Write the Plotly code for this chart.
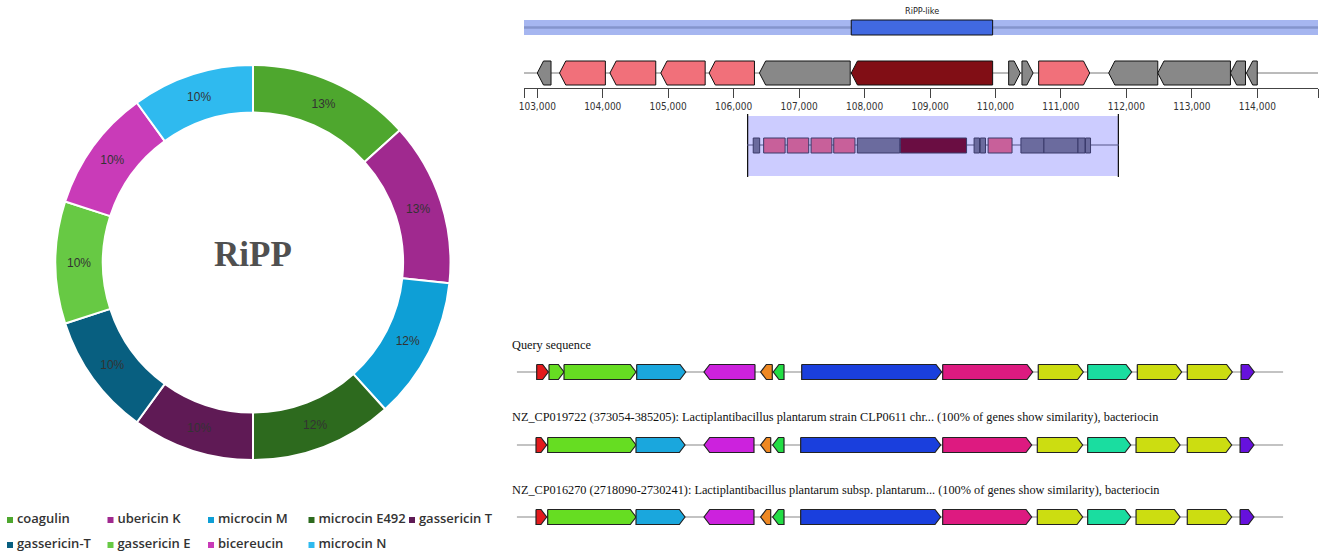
import plotly.graph_objects as go

# ---------------- data: donut ----------------
ripp_labels = ["coagulin", "ubericin K", "microcin M", "microcin E492", "gassericin T",
               "gassericin-T", "gassericin E", "bicereucin", "microcin N"]
ripp_counts = [8, 8, 7, 7, 6, 6, 6, 6, 6]
center_label = "RiPP"

# ---------------- data: antiSMASH region ----------------
region_start = 102797
region_end = 114928
protocluster_label = "RiPP-like"
protocluster_start = 107797
protocluster_end = 109957
gene_start = [103000, 103340, 104110, 104887, 105625, 106394, 107797,
              110202, 110405, 110660, 111730, 112480, 113590, 113835]
gene_end = [103210, 104040, 104810, 105565, 106318, 107781, 109957,
            110380, 110575, 111440, 112480, 113590, 113820, 114000]
gene_strand = [-1, -1, -1, -1, -1, -1, -1, 1, 1, 1, -1, -1, -1, -1]
gene_kind = ["other", "additional", "additional", "additional", "additional", "other", "core",
             "other", "other", "additional", "other", "other", "other", "other"]
tick_values = [103000, 104000, 105000, 106000, 107000, 108000, 109000,
               110000, 111000, 112000, 113000, 114000]

# ---------------- data: cluster comparison ----------------
cmp_titles = [
    "Query sequence",
    "NZ_CP019722 (373054-385205): Lactiplantibacillus plantarum strain CLP0611 chr... (100% of genes show similarity), bacteriocin",
    "NZ_CP016270 (2718090-2730241): Lactiplantibacillus plantarum subsp. plantarum... (100% of genes show similarity), bacteriocin",
]
cmp_length = 12151
query_start = [317, 512, 750, 1902, 2969, 3867, 4067, 4517, 6752, 8267, 9050, 9837, 10629, 11482]
query_end = [501, 750, 1891, 2679, 3777, 4051, 4237, 6736, 8179, 8981, 9748, 10540, 11342, 11691]
query_strand = [1, 1, 1, 1, -1, -1, -1, 1, 1, 1, 1, 1, 1, 1]
query_group = ["red", "lime", "lime", "cyan", "magenta", "orange", "green", "blue",
               "pink", "yellow", "teal", "yellow", "yellow", "purple"]
hit1_start = [306, 491, 1891, 2969, 3867, 4058, 4501, 6752, 8252, 9050, 9817, 10629, 11466]
hit1_end = [475, 1891, 2668, 3761, 4026, 4237, 6720, 8163, 8971, 9732, 10514, 11333, 11686]
hit1_strand = [1, 1, 1, -1, -1, -1, 1, 1, 1, 1, 1, 1, 1]
hit1_group = ["red", "lime", "cyan", "magenta", "orange", "green", "blue",
              "pink", "yellow", "teal", "yellow", "yellow", "purple"]
hit2_start = [306, 491, 1891, 2969, 3867, 4058, 4501, 6752, 8252, 9050, 9817, 10629, 11466]
hit2_end = [475, 1891, 2668, 3761, 4026, 4237, 6720, 8163, 8971, 9732, 10514, 11333, 11686]
hit2_strand = [1, 1, 1, -1, -1, -1, 1, 1, 1, 1, 1, 1, 1]
hit2_group = ["red", "lime", "cyan", "magenta", "orange", "green", "blue",
              "pink", "yellow", "teal", "yellow", "yellow", "purple"]

# ---------------- styles ----------------
W, H = 1325, 556
ripp_colors = ["#4ea72e", "#a0298f", "#0e9fd6", "#2d6a1e", "#5f1a55",
               "#085f80", "#67c944", "#c93bb8", "#2fbaef"]
kind_color = {"other": "#888888", "additional": "#f1707a", "core": "#810e15"}
mini_color = {"other": "#6b6b9e", "additional": "#c8609a", "core": "#6a0d42"}
group_color = {"red": "#e31a1c", "lime": "#66dd22", "cyan": "#1aa7dd", "magenta": "#cc22dd",
               "orange": "#ee8822", "green": "#22dd44", "blue": "#1a3fdd", "pink": "#dd1a80",
               "yellow": "#ccdd11", "teal": "#1adda0", "purple": "#6611dd"}

fig = go.Figure()

# ---------------- donut ----------------
fig.add_trace(go.Pie(
    labels=ripp_labels, values=ripp_counts, sort=False, direction="clockwise", rotation=0,
    hole=0.76, marker=dict(colors=ripp_colors, line=dict(color="white", width=2)),
    texttemplate="%{percent:.0%}", textposition="inside", insidetextorientation="horizontal",
    textfont=dict(family="Liberation Sans, Arial", size=12, color="#333333"),
    domain=dict(x=[55 / W, 451 / W], y=[1 - 460 / H, 1 - 65 / H]),
    showlegend=False, hoverinfo="skip",
))
fig.add_annotation(text="<b>%s</b>" % center_label, x=253 / W, y=1 - 254 / H, xref="paper", yref="paper",
                   xanchor="center", yanchor="middle", showarrow=False,
                   font=dict(family="Liberation Serif, Times New Roman", size=35, color="#505050"))

# manual legend (5 per row)
leg_x = [10 + 100.5 * (i % 5) for i in range(len(ripp_labels))]
leg_y = [520 + 25 * (i // 5) for i in range(len(ripp_labels))]
fig.add_trace(go.Scatter(
    x=leg_x, y=leg_y, xaxis="x", yaxis="y", mode="markers+text",
    marker=dict(symbol="square", size=6, color=ripp_colors),
    text=["\u2009" + lab for lab in ripp_labels], textposition="middle right",
    textfont=dict(family="Open Sans, Noto Sans", size=13, color="#333333", weight=600),
    showlegend=False, hoverinfo="skip", cliponaxis=False,
))


def arrow(s, e, strand, yc, h, head):
    hd = min(head, (e - s) * 0.6)
    y0, y1 = yc - h / 2, yc + h / 2
    if strand > 0:
        return [s, e - hd, e, e - hd, s, s], [y0, y0, yc, y1, y1, y0]
    return [e, s + hd, s, s + hd, e, e], [y0, y0, yc, y1, y1, y0]


def rect(s, e, y0, y1):
    return [s, e, e, s, s], [y0, y0, y1, y1, y0]


# ---------------- antiSMASH region ----------------
xs, ys = rect(region_start, region_end, 20, 35)
fig.add_trace(go.Scatter(x=xs, y=ys, xaxis="x2", yaxis="y", fill="toself", fillcolor="#a6b6f0",
                         mode="lines", line=dict(width=0), showlegend=False, hoverinfo="skip"))
fig.add_trace(go.Scatter(x=[region_start, region_end], y=[27.5, 27.5], xaxis="x2", yaxis="y",
                         mode="lines", line=dict(color="#8494cc", width=2.5), showlegend=False, hoverinfo="skip"))
xs, ys = rect(protocluster_start, protocluster_end, 20, 35)
fig.add_trace(go.Scatter(x=xs, y=ys, xaxis="x2", yaxis="y", fill="toself", fillcolor="#4169e1",
                         mode="lines", line=dict(color="#111111", width=1), showlegend=False, hoverinfo="skip"))
fig.add_annotation(text=protocluster_label, x=(protocluster_start + protocluster_end) / 2, y=11,
                   xref="x2", yref="y", showarrow=False,
                   font=dict(family="Liberation Sans Narrow, DejaVu Sans Condensed, Liberation Sans", size=9, color="#222222"))

# gene track
fig.add_trace(go.Scatter(x=[region_start, region_end], y=[73, 73], xaxis="x2", yaxis="y", mode="lines",
                         line=dict(color="#777777", width=1), showlegend=False, hoverinfo="skip"))
for s, e, st, k in zip(gene_start, gene_end, gene_strand, gene_kind):
    xs, ys = arrow(s, e, st, 73, 24, 95)
    fig.add_trace(go.Scatter(x=xs, y=ys, xaxis="x2", yaxis="y", fill="toself", fillcolor=kind_color[k],
                             mode="lines", line=dict(color="#111111", width=1), showlegend=False, hoverinfo="skip"))

# mini overview
xs, ys = rect(region_start, region_end, 116, 176)
fig.add_trace(go.Scatter(x=xs, y=ys, xaxis="x3", yaxis="y", fill="toself", fillcolor="#ccccff",
                         mode="lines", line=dict(width=0), showlegend=False, hoverinfo="skip"))
for xv in (region_start, region_end):
    fig.add_trace(go.Scatter(x=[xv, xv], y=[114, 177], xaxis="x3", yaxis="y", mode="lines",
                             line=dict(color="#111111", width=2.5), showlegend=False, hoverinfo="skip"))
fig.add_trace(go.Scatter(x=[region_start, region_end], y=[145, 145], xaxis="x3", yaxis="y", mode="lines",
                         line=dict(color="#555588", width=1), showlegend=False, hoverinfo="skip"))
for s, e, k in zip(gene_start, gene_end, gene_kind):
    xs, ys = rect(s, e, 138, 153)
    fig.add_trace(go.Scatter(x=xs, y=ys, xaxis="x3", yaxis="y", fill="toself", fillcolor=mini_color[k],
                             mode="lines", line=dict(color="#3a3a6a", width=1), showlegend=False, hoverinfo="skip"))

# ---------------- comparison rows ----------------
rows = [(query_start, query_end, query_strand, query_group),
        (hit1_start, hit1_end, hit1_strand, hit1_group),
        (hit2_start, hit2_end, hit2_strand, hit2_group)]
title_y = [345, 417, 490]
row_y = [372, 445, 517]
for title, ty, ry, (st_, en_, sd_, gr_) in zip(cmp_titles, title_y, row_y, rows):
    fig.add_annotation(text=title, x=510 / W, y=ty, xref="paper", yref="y", xanchor="left",
                       showarrow=False, font=dict(family="Liberation Serif, Times New Roman", size=12.3, color="#111111"))
    fig.add_trace(go.Scatter(x=[0, cmp_length], y=[ry, ry], xaxis="x4", yaxis="y", mode="lines",
                             line=dict(color="#888888", width=1.2), showlegend=False, hoverinfo="skip"))
    for s, e, sd, g in zip(st_, en_, sd_, gr_):
        xs, ys = arrow(s, e, sd, ry, 15, 90)
        fig.add_trace(go.Scatter(x=xs, y=ys, xaxis="x4", yaxis="y", fill="toself", fillcolor=group_color[g],
                                 mode="lines", line=dict(color="#222222", width=1.2), showlegend=False, hoverinfo="skip"))

hidden = dict(visible=False, fixedrange=True)
fig.update_layout(
    width=W, height=H, margin=dict(l=0, r=0, t=0, b=0, autoexpand=False),
    paper_bgcolor="white", plot_bgcolor="rgba(0,0,0,0)", showlegend=False,
    xaxis=dict(domain=[0, 1], range=[0, W], **hidden),
    yaxis=dict(domain=[0, 1], range=[H, 0], **hidden),
    xaxis2=dict(domain=[524 / W, 1318 / W], range=[region_start, region_end], anchor="free",
                position=1 - 88 / H, showline=True, linecolor="#444444", linewidth=1,
                ticks="outside", ticklen=9, tickcolor="#444444", showgrid=False, zeroline=False,
                tickvals=[region_start] + tick_values + [region_end],
                ticktext=[""] + ["{:,}".format(v) for v in tick_values] + [""],
                tickfont=dict(family="Liberation Sans Narrow, DejaVu Sans Condensed, Liberation Sans", size=10, color="#333333"),
                fixedrange=True),
    xaxis3=dict(domain=[747 / W, 1119 / W], range=[region_start, region_end], anchor="y", **hidden),
    xaxis4=dict(domain=[516.7 / W, 1283.3 / W], range=[0, cmp_length], anchor="y", **hidden),
)
fig.write_html("out.html", config={"displayModeBar": False},
               post_script="document.body.style.margin='0';document.body.style.overflow='hidden';")
